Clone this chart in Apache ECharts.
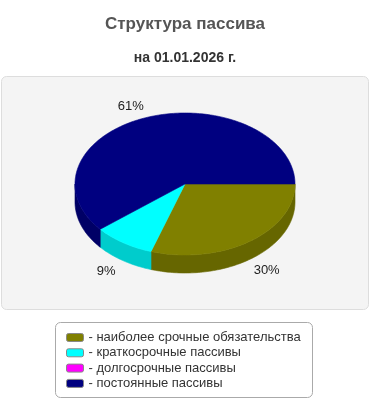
<!DOCTYPE html>
<html><head><meta charset="utf-8">
<script src="https://cdn.jsdelivr.net/npm/echarts@6/dist/echarts.min.js"></script>
<style>html,body{margin:0;padding:0;background:#fff}#c{width:370px;height:400px}</style>
</head><body><div id="c"></div>
<script>
// ---- data ----
const categories = ['наиболее срочные обязательства', 'краткосрочные пассивы', 'долгосрочные пассивы', 'постоянные пассивы'];
const values = [30, 9, 0, 61];
const titleText = 'Структура пассива';
const subtitleText = 'на 01.01.2026 г.';
// ---- styles ----
const topColors = ['#808000', '#00ffff', '#ff00ff', '#000080'];
const sideColors = ['#666600', '#00cccc', '#cc00cc', '#000066'];
const FONT = '"Liberation Sans", Arial, sans-serif';

const total = values.reduce((a, b) => a + b, 0);
const starts = [];
let acc = 0;
values.forEach(v => { starts.push(acc); acc += v; });

function renderItem(params, api) {
  const i = params.dataIndex;
  const v = api.value(1);
  if (!(v > 0)) return { type: 'group', children: [] };
  const W = api.getWidth();
  const cx = W / 2, cy = 184, rx = 110, ry = 71, depth = 18;
  const a1 = starts[i] / total * 2 * Math.PI;
  const a2 = (starts[i] + v) / total * 2 * Math.PI;
  const pt = (a, dy) => [cx + rx * Math.cos(a), cy + ry * Math.sin(a) + (dy || 0)];
  const arc = (s, e, dy) => {
    const n = Math.max(2, Math.ceil((e - s) / 0.02));
    const pts = [];
    for (let k = 0; k <= n; k++) pts.push(pt(s + (e - s) * k / n, dy));
    return pts;
  };
  const children = [];
  const s = Math.max(a1, 0), e = Math.min(a2, Math.PI);
  if (e > s) {
    const top = arc(s, e, 0);
    const bot = arc(s, e, depth).reverse();
    children.push({ type: 'polygon', z2: 1, shape: { points: top.concat(bot) },
      style: { fill: sideColors[i], stroke: sideColors[i], lineWidth: 0.6 } });
  }
  children.push({ type: 'polygon', z2: 10, shape: { points: [[cx, cy]].concat(arc(a1, a2, 0)) },
    style: { fill: topColors[i], stroke: topColors[i], lineWidth: 0.6 } });
  const m = (a1 + a2) / 2;
  const c = Math.cos(m), sn = Math.sin(m);
  const lx = cx + rx * c + 17 * Math.sign(c);
  const ly = cy + ry * sn + 11 * Math.sign(sn) + (sn > 0 ? depth : 0);
  children.push({ type: 'text', z2: 20, style: {
    text: Math.round(v / total * 100) + '%', x: lx, y: ly, align: 'center', verticalAlign: 'middle',
    fill: '#222', font: '13px ' + FONT } });
  return { type: 'group', children };
}

const chart = echarts.init(document.getElementById('c'), null, { renderer: 'canvas' });
chart.setOption({
  animation: false,
  title: [
    { text: titleText, left: 'center', top: 16, padding: 0,
      textStyle: { fontSize: 17, fontWeight: 'bold', color: '#555', fontFamily: FONT } },
    { text: subtitleText, left: 'center', top: 51, padding: 0,
      textStyle: { fontSize: 14, fontWeight: 'bold', color: '#333', fontFamily: FONT } }
  ],
  graphic: [
    { type: 'rect', z: -10, shape: { x: 1.5, y: 76.5, width: 367, height: 233, r: 5 },
      style: { fill: '#f4f4f4', stroke: '#dddddd', lineWidth: 1 } },
    { type: 'rect', z: -10, shape: { x: 55.5, y: 322.5, width: 257, height: 75, r: 5 },
      style: { fill: '#ffffff', stroke: '#aaaaaa', lineWidth: 1 } }
  ],
  legend: {
    orient: 'vertical', left: 66, top: 330, itemWidth: 17, itemHeight: 8, itemGap: 0.3,
    icon: 'roundRect', selectedMode: false, padding: 0,
    formatter: n => '- ' + n,
    itemStyle: { borderColor: '#888', borderWidth: 1 },
    textStyle: { fontSize: 13, color: '#333', fontFamily: FONT, lineHeight: 15 },
    data: categories
  },
  series: [
    { type: 'custom', coordinateSystem: 'none', renderItem: renderItem, silent: true,
      data: categories.map((n, i) => [i, values[i]]) },
    { type: 'pie', radius: [0, 0], silent: true, label: { show: false }, labelLine: { show: false },
      data: categories.map((n, i) => ({ name: n, value: values[i], itemStyle: { color: topColors[i] } })) }
  ]
});
</script>
</body></html>
